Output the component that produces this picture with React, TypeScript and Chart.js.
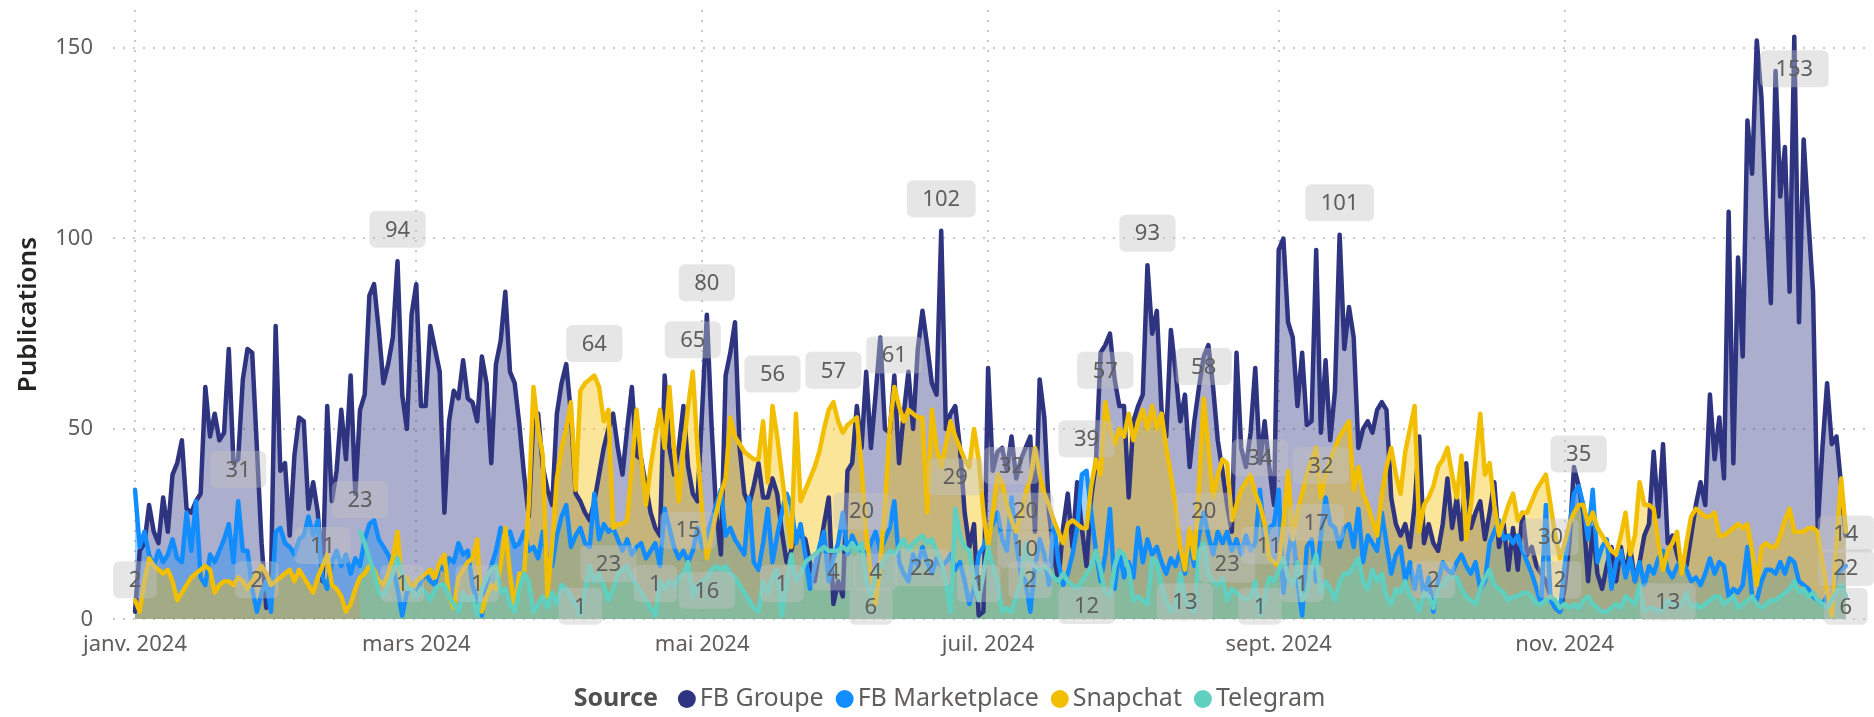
import React, { useEffect, useRef } from 'react';
import { Chart, registerables } from 'chart.js';

Chart.register(...registerables);

const FONT = '"Segoe UI", "Noto Sans", "Open Sans", sans-serif';

const seriesNames = ['FB Groupe', 'FB Marketplace', 'Snapchat', 'Telegram'];
const seriesColors = ['#2E3480', '#118DFF', '#F2BE00', '#5FCFC0'];
const seriesFills = ['rgba(46,52,128,0.4)', 'rgba(17,141,255,0.4)', 'rgba(242,190,0,0.4)', 'rgba(95,207,192,0.4)'];
const legendTitle = 'Source';
const axisTitle = 'Publications';

// day index 0 = 1 Jan 2024 ... 365 = 31 Dec 2024
const days = Array.from({ length: 366 }, (_, i) => i);
const monthTickDays = [0, 60, 121, 182, 244, 305];
const monthTickLabels = ['janv. 2024', 'mars 2024', 'mai 2024', 'juil. 2024', 'sept. 2024', 'nov. 2024'];
const yTicks = [0, 50, 100, 150];

const fbGroupe = [
  2, 18, 20, 30, 23, 20, 32, 23, 38, 41,
  47, 29, 28, 31, 33, 61, 48, 54, 47, 49,
  71, 41, 42, 63, 71, 70, 45, 20, 3, 10,
  77, 39, 41, 22, 43, 53, 52, 29, 36, 28,
  10, 56, 31, 39, 55, 42, 64, 33, 55, 59,
  85, 88, 76, 62, 67, 74, 94, 59, 50, 80,
  88, 56, 56, 77, 71, 65, 28, 52, 60, 58,
  68, 58, 57, 52, 69, 62, 41, 67, 73, 86,
  65, 62, 51, 38, 27, 53, 54, 40, 34, 30,
  54, 62, 67, 54, 33, 31, 28, 26, 31, 38,
  45, 50, 54, 45, 38, 50, 61, 43, 42, 35,
  28, 24, 22, 64, 45, 38, 45, 56, 40, 33,
  31, 55, 80, 51, 28, 17, 64, 70, 78, 45,
  33, 30, 35, 41, 32, 32, 37, 33, 23, 15,
  18, 23, 22, 21, 15, 10, 18, 25, 32, 4,
  10, 6, 39, 41, 56, 45, 65, 45, 59, 74,
  50, 49, 64, 41, 54, 65, 50, 71, 81, 72,
  62, 59, 102, 50, 54, 56, 45, 28, 19, 25,
  1, 2, 66, 39, 44, 45, 39, 48, 37, 42,
  45, 48, 23, 63, 53, 28, 17, 10, 24, 33,
  19, 36, 24, 14, 32, 41, 70, 72, 75, 63,
  56, 56, 32, 52, 56, 59, 93, 75, 81, 55,
  48, 76, 65, 52, 59, 40, 52, 61, 69, 72,
  61, 47, 39, 30, 23, 70, 45, 40, 49, 66,
  41, 52, 40, 30, 97, 100, 78, 74, 56, 70,
  51, 52, 97, 49, 68, 47, 60, 101, 71, 82,
  74, 45, 50, 52, 49, 55, 57, 55, 32, 25,
  22, 25, 19, 30, 48, 20, 25, 20, 18, 25,
  37, 24, 32, 21, 41, 24, 28, 31, 21, 28,
  36, 19, 25, 13, 24, 13, 28, 17, 19, 14,
  12, 10, 6, 3, 2, 8, 20, 40, 35, 28,
  10, 24, 12, 8, 14, 19, 10, 19, 12, 19,
  10, 15, 22, 25, 44, 27, 46, 20, 22, 17,
  13, 14, 22, 30, 36, 30, 59, 42, 53, 37,
  107, 41, 95, 69, 131, 117, 152, 137, 106, 83,
  144, 111, 124, 86, 153, 78, 126, 105, 86, 24,
  45, 62, 46, 48, 35, 22,
];

const fbMarketplace = [
  34, 19, 23, 17, 14, 18, 15, 17, 21, 16,
  15, 28, 18, 31, 11, 9, 17, 15, 18, 21,
  25, 15, 31, 18, 18, 8, 2, 7, 10, 2,
  23, 24, 20, 19, 17, 21, 22, 27, 22, 26,
  11, 8, 15, 18, 14, 17, 12, 16, 14, 21,
  25, 26, 21, 19, 17, 14, 8, 1, 7, 9,
  6, 10, 12, 10, 9, 14, 13, 16, 15, 20,
  17, 18, 9, 5, 1, 10, 14, 18, 24, 22,
  23, 19, 20, 23, 18, 19, 16, 23, 15, 14,
  22, 27, 30, 19, 22, 24, 20, 19, 33, 21,
  25, 23, 24, 21, 18, 21, 17, 19, 20, 16,
  18, 20, 14, 29, 24, 19, 16, 18, 15, 18,
  24, 19, 22, 26, 30, 34, 22, 24, 21, 19,
  17, 32, 15, 13, 20, 29, 15, 22, 28, 33,
  30, 20, 25, 17, 8, 14, 19, 23, 10, 16,
  20, 28, 17, 22, 19, 18, 17, 20, 23, 18,
  21, 24, 31, 15, 12, 10, 17, 14, 19, 15,
  12, 16, 14, 15, 17, 13, 15, 10, 4, 8,
  17, 19, 23, 25, 28, 21, 18, 32, 20, 12,
  10, 2, 14, 21, 17, 9, 26, 15, 9, 12,
  17, 24, 38, 39, 28, 18, 10, 17, 29, 8,
  18, 11, 15, 11, 24, 15, 21, 17, 19, 15,
  12, 16, 14, 18, 12, 20, 14, 22, 28, 22,
  17, 23, 20, 23, 18, 21, 17, 22, 18, 20,
  34, 21, 24, 25, 34, 7, 17, 24, 10, 1,
  19, 21, 10, 22, 32, 25, 24, 19, 24, 25,
  19, 29, 15, 22, 20, 18, 28, 20, 12, 17,
  19, 10, 15, 8, 14, 6, 11, 2, 10, 15,
  13, 12, 15, 17, 14, 12, 15, 8, 10, 20,
  23, 26, 21, 22, 20, 22, 18, 15, 12, 8,
  4, 30, 5, 3, 2, 14, 24, 33, 35, 30,
  21, 34, 15, 19, 21, 8, 15, 18, 11, 16,
  10, 15, 9, 14, 12, 16, 18, 13, 11, 14,
  16, 13, 10, 11, 9, 12, 16, 12, 15, 14,
  6, 8, 7, 9, 19, 6, 5, 10, 13, 13,
  12, 15, 12, 16, 15, 10, 9, 8, 6, 5,
  4, 6, 6, 12, 13, 14,
];

const snapchat = [
  5, 2, 10, 16, 14, 13, 12, 13, 10, 5,
  7, 9, 11, 12, 13, 14, 13, 7, 9, 10,
  10, 9, 11, 10, 8, 10, 12, 14, 12, 9,
  10, 11, 12, 13, 10, 13, 11, 9, 7, 11,
  14, 17, 9, 8, 6, 2, 4, 8, 11, 12,
  14, 13, 10, 9, 12, 16, 23, 8, 11, 8,
  10, 11, 12, 13, 11, 15, 17, 6, 3, 11,
  13, 15, 16, 21, 2, 6, 9, 8, 14, 24,
  12, 3, 12, 12, 30, 61, 50, 43, 6, 20,
  37, 45, 50, 57, 34, 60, 62, 63, 64, 61,
  52, 55, 24, 25, 25, 26, 40, 55, 42, 30,
  40, 48, 55, 45, 61, 45, 31, 45, 56, 65,
  45, 28, 16, 22, 28, 33, 37, 53, 48, 46,
  44, 43, 42, 42, 52, 36, 56, 48, 38, 28,
  19, 54, 31, 34, 37, 40, 44, 50, 55, 57,
  52, 49, 51, 52, 53, 40, 23, 12, 4, 15,
  30, 50, 61, 56, 52, 55, 54, 53, 53, 28,
  55, 45, 40, 46, 52, 48, 45, 42, 40, 50,
  42, 28, 19, 28, 38, 36, 30, 26, 23, 28,
  33, 37, 45, 38, 33, 30, 26, 23, 20, 25,
  26, 25, 24, 24, 35, 42, 38, 57, 50, 46,
  50, 48, 54, 47, 52, 55, 50, 56, 50, 54,
  45, 38, 30, 19, 13, 24, 16, 35, 58, 45,
  32, 38, 42, 41, 26, 30, 34, 36, 38, 33,
  30, 25, 16, 15, 14, 25, 39, 21, 28, 33,
  38, 42, 45, 32, 38, 42, 45, 48, 50, 52,
  34, 40, 33, 30, 26, 22, 33, 40, 45, 38,
  33, 44, 50, 56, 23, 30, 32, 35, 40, 42,
  45, 38, 32, 43, 21, 30, 42, 54, 38, 41,
  30, 22, 26, 30, 33, 26, 28, 28, 31, 34,
  36, 38, 30, 22, 16, 20, 25, 28, 30, 30,
  25, 28, 24, 22, 20, 18, 17, 22, 28, 17,
  22, 36, 30, 30, 29, 20, 13, 18, 20, 23,
  12, 20, 27, 29, 28, 27, 27, 28, 22, 22,
  23, 24, 25, 24, 25, 18, 9, 19, 20, 19,
  19, 22, 26, 29, 23, 23, 23, 24, 24, 23,
  15, 8, 1, 20, 37, 23,
];

// Telegram has no data before 18 Feb (day 48)
const telegramMissingDays = 48;
const telegram = [
  ...Array(telegramMissingDays).fill(null),
  23, 20,
  16, 12, 7, 6, 9, 12, 16, 12, 8, 8,
  6, 8, 7, 5, 8, 9, 9, 6, 4, 2,
  7, 5, 6, 1, 8, 11, 13, 14, 7, 8,
  4, 2, 8, 12, 10, 2, 4, 6, 3, 7,
  4, 9, 8, 6, 4, 1, 8, 14, 10, 12,
  9, 5, 8, 12, 13, 14, 11, 9, 7, 5,
  3, 1, 10, 8, 10, 9, 11, 12, 15, 6,
  9, 10, 11, 13, 14, 13, 14, 12, 11, 9,
  7, 5, 3, 2, 10, 7, 11, 13, 1, 10,
  17, 10, 12, 15, 16, 17, 18, 19, 18, 18,
  18, 19, 18, 20, 18, 20, 10, 6, 12, 14,
  16, 18, 17, 19, 21, 18, 20, 21, 22, 20,
  21, 18, 15, 10, 2, 29, 22, 19, 18, 10,
  5, 12, 19, 14, 10, 2, 3, 2, 6, 10,
  20, 15, 14, 13, 14, 13, 11, 10, 12, 10,
  9, 8, 10, 12, 14, 18, 13, 7, 6, 14,
  18, 17, 13, 5, 6, 5, 4, 16, 15, 9,
  5, 2, 4, 12, 6, 3, 2, 18, 20, 12,
  10, 9, 11, 5, 8, 7, 6, 5, 6, 10,
  1, 6, 11, 10, 13, 16, 11, 9, 15, 5,
  7, 13, 17, 7, 10, 8, 5, 10, 12, 12,
  14, 16, 10, 8, 13, 10, 12, 6, 4, 8,
  7, 10, 6, 5, 2, 7, 6, 3, 8, 9,
  11, 11, 11, 8, 6, 5, 4, 8, 11, 13,
  9, 8, 7, 5, 6, 6, 7, 7, 6, 4,
  4, 5, 6, 5, 3, 4, 3, 4, 3, 5,
  6, 4, 3, 2, 2, 3, 4, 3, 6, 5,
  4, 9, 2, 3, 3, 2, 3, 5, 4, 3,
  4, 7, 3, 4, 3, 4, 5, 6, 6, 4,
  5, 6, 3, 4, 5, 6, 4, 3, 4, 5,
  5, 6, 7, 8, 10, 7, 8, 6, 7, 5,
  4, 3, 5, 7, 9, 6,
];

const seriesValues = [fbGroupe, fbMarketplace, snapchat, telegram];

// data labels shown on the chart: [series index, day index, placement]
const labelPoints: [number, number, 'above' | 'below'][] = [
  [0, 0, 'above'], [1, 22, 'above'], [1, 26, 'above'], [1, 40, 'above'],
  [3, 48, 'above'], [0, 56, 'above'], [1, 57, 'above'], [3, 73, 'above'],
  [3, 95, 'below'], [2, 98, 'above'], [1, 101, 'below'], [3, 111, 'above'],
  [3, 118, 'above'], [2, 119, 'above'], [0, 122, 'above'], [2, 122, 'below'],
  [2, 136, 'above'], [3, 138, 'above'], [2, 149, 'above'], [0, 149, 'above'],
  [3, 155, 'above'], [3, 157, 'below'], [2, 158, 'above'], [2, 162, 'above'],
  [3, 168, 'below'], [0, 172, 'above'], [3, 175, 'above'], [0, 180, 'above'],
  [1, 187, 'above'], [1, 190, 'above'], [3, 190, 'above'], [1, 191, 'above'],
  [1, 203, 'above'], [3, 203, 'below'], [2, 207, 'above'], [0, 216, 'above'],
  [2, 224, 'below'], [2, 228, 'above'], [3, 228, 'above'], [1, 233, 'below'],
  [1, 240, 'above'], [3, 240, 'below'], [3, 242, 'above'], [1, 249, 'above'],
  [3, 252, 'above'], [2, 253, 'above'], [0, 257, 'above'], [1, 277, 'above'],
  [2, 302, 'below'], [0, 304, 'above'], [1, 308, 'above'], [1, 327, 'below'],
  [0, 354, 'below'], [1, 365, 'above'], [0, 365, 'below'], [3, 365, 'below'],
];

const labelPlugin = {
  id: 'pointLabels',
  afterDatasetsDraw(chart: any) {
    const { ctx, chartArea, scales } = chart;
    ctx.save();
    ctx.font = `22px ${FONT}`;
    ctx.textAlign = 'center';
    ctx.textBaseline = 'middle';
    const h = 37;
    for (const [s, d, pos] of labelPoints) {
      const v = seriesValues[s][d];
      if (v === null || v === undefined) continue;
      const px = scales.x.getPixelForValue(d);
      const py = scales.y.getPixelForValue(v);
      let cy = pos === 'above' ? py - 32 : py + 32;
      cy = Math.min(cy, chartArea.bottom - 13);
      cy = Math.max(cy, chartArea.top + h / 2);
      const text = String(v);
      const w = ctx.measureText(text).width + 31;
      const cx = Math.min(px, chart.width - w / 2);
      ctx.fillStyle = 'rgba(196,196,196,0.42)';
      ctx.beginPath();
      ctx.roundRect(cx - w / 2, cy - h / 2, w, h, 6);
      ctx.fill();
      ctx.fillStyle = '#5E5E5E';
      ctx.fillText(text, cx, cy + 1);
    }
    ctx.restore();
  },
};

const legendPlugin = {
  id: 'sourceLegend',
  afterDraw(chart: any) {
    const ctx = chart.ctx;
    const cy = 699;
    const r = 9;
    ctx.save();
    ctx.textBaseline = 'middle';
    ctx.textAlign = 'left';
    ctx.font = `700 25px ${FONT}`;
    const titleW = ctx.measureText(legendTitle).width;
    ctx.font = `25px ${FONT}`;
    const widths = seriesNames.map((n) => ctx.measureText(n).width);
    const gapTitle = 20;
    const gapText = 4;
    const gapItem = 12;
    const total = titleW + gapTitle + widths.reduce((a, w) => a + 2 * r + gapText + w, 0) + gapItem * (widths.length - 1);
    let x = 949.5 - total / 2;
    ctx.font = `700 25px ${FONT}`;
    ctx.fillStyle = '#505050';
    ctx.fillText(legendTitle, x, cy);
    x += titleW + gapTitle;
    ctx.font = `25px ${FONT}`;
    seriesNames.forEach((n, i) => {
      ctx.fillStyle = seriesColors[i];
      ctx.beginPath();
      ctx.arc(x + r, cy, r, 0, Math.PI * 2);
      ctx.fill();
      x += 2 * r + gapText;
      ctx.fillStyle = '#605E5C';
      ctx.fillText(n, x, cy);
      x += widths[i] + gapItem;
    });
    ctx.restore();
  },
};

export default function App() {
  const ref = useRef<HTMLCanvasElement>(null);
  useEffect(() => {
    const canvas = ref.current;
    if (!canvas) return;
    const datasets = seriesNames.map((name, i) => ({
      label: name,
      data: seriesValues[i],
      borderColor: seriesColors[i],
      backgroundColor: seriesFills[i],
      fill: 'origin',
      borderWidth: 4.5,
      pointRadius: 0,
      pointHoverRadius: 0,
      tension: 0,
      borderJoinStyle: 'round',
      borderCapStyle: 'round',
      order: 3 - i,
    }));
    const gridOpts = { color: '#C8C8C8', lineWidth: 2, drawTicks: false };
    const borderOpts = { display: false, dash: [2, 8] };
    const chart = new Chart(canvas, {
      type: 'line',
      data: { labels: days, datasets: datasets as any },
      options: {
        animation: false,
        responsive: true,
        maintainAspectRatio: false,
        events: [],
        layout: { padding: { left: 0, right: 8, top: 10, bottom: 0 } },
        plugins: {
          legend: { display: false },
          tooltip: { enabled: false },
          filler: { drawTime: 'beforeDatasetsDraw' },
        } as any,
        scales: {
          x: {
            type: 'linear',
            min: -4.7,
            max: 369.3,
            afterBuildTicks: (s: any) => { s.ticks = monthTickDays.map((v) => ({ value: v })); },
            afterFit: (s: any) => {
              s.height = 97.7;
              s.paddingLeft = 0;
              s.paddingRight = 0;
            },
            ticks: {
              callback: (v: any) => monthTickLabels[monthTickDays.indexOf(v)] ?? '',
              font: { size: 22, family: FONT },
              color: '#605E5C',
              padding: 12,
              maxRotation: 0,
              autoSkip: false,
            },
            grid: gridOpts,
            border: borderOpts,
          },
          y: {
            min: 0,
            max: 160,
            afterBuildTicks: (s: any) => { s.ticks = yTicks.map((v) => ({ value: v })); },
            afterFit: (s: any) => {
              s.width = 113;
              s.paddingTop = 0;
              s.paddingBottom = 0;
            },
            ticks: {
              font: { size: 22, family: FONT },
              color: '#605E5C',
              padding: 20,
            },
            grid: gridOpts,
            border: borderOpts,
            title: {
              display: true,
              text: axisTitle,
              font: { size: 26, family: FONT, weight: '600' },
              color: '#252423',
              padding: { top: 13, bottom: 0 },
            },
          },
        } as any,
      },
      plugins: [labelPlugin, legendPlugin],
    });
    return () => chart.destroy();
  }, []);
  return (
    <div style={{ position: 'absolute', left: 0, top: 0, width: 1874, height: 717 }}>
      <canvas ref={ref} />
    </div>
  );
}
